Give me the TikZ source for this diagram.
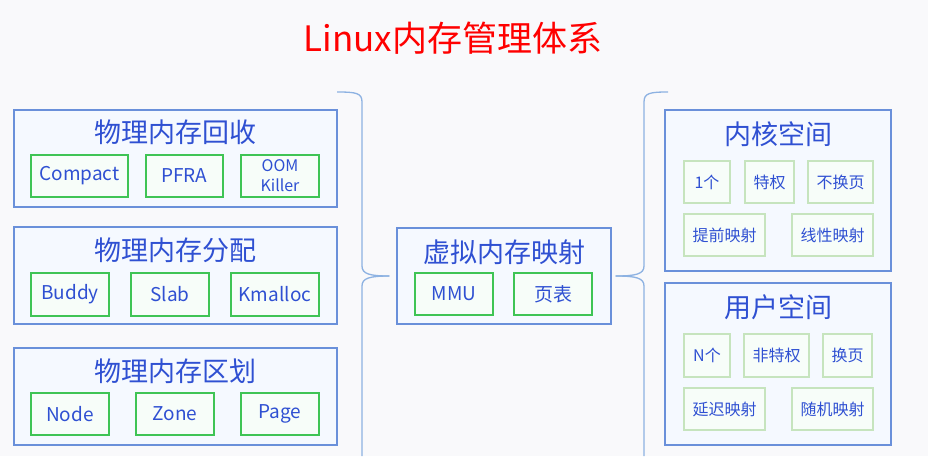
\documentclass[tikz,border=0pt]{standalone}
\usepackage{fontspec}
\setmainfont{Noto Sans CJK SC}
\definecolor{bgc}{HTML}{F9F9FB}
\definecolor{obd}{HTML}{6A90DA}
\definecolor{ofill}{HTML}{F5F9FF}
\definecolor{txt}{HTML}{2F50D2}
\definecolor{gbd}{HTML}{3FC455}
\definecolor{gfill}{HTML}{F7FDF9}
\definecolor{pgbd}{HTML}{C6E4BE}
\definecolor{brc}{HTML}{8DB2E2}
\definecolor{ttl}{HTML}{FF0000}
\begin{document}
\begin{tikzpicture}[x=1pt,y=-1pt,
 outerbox/.style={draw=obd, fill=ofill, line width=1.3pt, inner sep=0pt},
 boxtitle/.style={text=txt, font=\fontsize{27}{30}\selectfont, inner sep=0pt},
 gbox/.style={draw=gbd, fill=gfill, line width=1.2pt, inner sep=0pt, text=txt,
   font=\fontsize{19}{22}\selectfont, minimum height=42pt, align=center},
 pbox/.style={draw=pgbd, fill=gfill, line width=1.2pt, inner sep=0pt, text=txt,
   font=\fontsize{16}{19}\selectfont, minimum height=42pt, align=center},
 bracestyle/.style={draw=brc, line width=1.3pt}]
\fill[bgc] (0,0) rectangle (928,456);
\useasboundingbox (0,0) rectangle (928,456);

% title
\node[text=ttl, font=\fontsize{35}{40}\selectfont, inner sep=0pt] (title) at (453,38) {Linux内存管理体系};

% left column
\node[outerbox, minimum width=323pt, minimum height=97pt] (b1) at (175.5,158.5) {};
\node[boxtitle] (b1t) at (175.5,132) {物理内存回收};
\node[gbox, minimum width=97pt] (compact) at (79.5,176) {Compact};
\node[gbox, minimum width=77pt] (pfra) at (184.5,176) {PFRA};
\node[gbox, minimum width=78pt, font=\fontsize{16}{20}\selectfont] (oom) at (280,176) {OOM\\Killer};

\node[outerbox, minimum width=323pt, minimum height=97pt] (b2) at (175.5,275.5) {};
\node[boxtitle] (b2t) at (175.5,250) {物理内存分配};
\node[gbox, minimum width=78pt, minimum height=43pt] (buddy) at (70,294.5) {Buddy};
\node[gbox, minimum width=78pt, minimum height=43pt] (slab) at (170,294.5) {Slab};
\node[gbox, minimum width=88pt, minimum height=43pt] (kmalloc) at (275,294.5) {Kmalloc};

\node[outerbox, minimum width=323pt, minimum height=97pt] (b3) at (175.5,396.5) {};
\node[boxtitle] (b3t) at (175.5,371) {物理内存区划};
\node[gbox, minimum width=78pt] (nodeb) at (70,414) {Node};
\node[gbox, minimum width=78pt] (zone) at (175,414) {Zone};
\node[gbox, minimum width=78pt] (page) at (280,414) {Page};

% center
\node[outerbox, minimum width=214pt, minimum height=96pt] (c) at (504,276) {};
\node[boxtitle] (ct) at (504,252) {虚拟内存映射};
\node[gbox, minimum width=78pt] (mmu) at (454,294) {MMU};
\node[gbox, minimum width=78pt] (pt) at (553,294) {页表};

% right column
\node[outerbox, minimum width=226pt, minimum height=161pt] (k) at (778,190.5) {};
\node[boxtitle] (kt) at (778,134) {内核空间};
\node[pbox, minimum width=46pt] (k1) at (707,182) {1个};
\node[pbox, minimum width=49pt] (k2) at (769.5,182) {特权};
\node[pbox, minimum width=65pt] (k3) at (840.5,182) {不换页};
\node[pbox, minimum width=81pt] (k4) at (724.5,235) {提前映射};
\node[pbox, minimum width=81pt] (k5) at (832.5,235) {线性映射};

\node[outerbox, minimum width=226pt, minimum height=162pt] (u) at (778,364) {};
\node[boxtitle] (ut) at (778,307) {用户空间};
\node[pbox, minimum width=46pt, minimum height=43pt] (u1) at (707,355.5) {N个};
\node[pbox, minimum width=65pt, minimum height=43pt] (u2) at (776.5,355.5) {非特权};
\node[pbox, minimum width=49pt, minimum height=43pt] (u3) at (847.5,355.5) {换页};
\node[pbox, minimum width=81pt] (u4) at (724.5,409) {延迟映射};
\node[pbox, minimum width=81pt] (u5) at (832.5,409) {随机映射};

% braces
\coordinate (ltip) at ([xshift=-7pt]c.west);
\coordinate (rtip) at ([xshift=4pt]c.east);
\coordinate (ltop) at (337,92);
\coordinate (lbot) at (362,456);
\coordinate (rtop) at (668,92);
\coordinate (rbot) at (644,456);
\draw[bracestyle] (ltop) .. controls (356,92) and (362,93) .. (362,102) -- (362,266)
  .. controls (362,274) and (370,276) .. (ltip);
\draw[bracestyle] (ltip) .. controls (370,276) and (362,278) .. (362,286) -- (lbot);
\draw[bracestyle] (rtop) .. controls (650,92) and (644,93) .. (644,102) -- (644,266)
  .. controls (644,274) and (636,276) .. (rtip);
\draw[bracestyle] (rtip) .. controls (636,276) and (644,278) .. (644,286) -- (rbot);
\end{tikzpicture}
\end{document}
